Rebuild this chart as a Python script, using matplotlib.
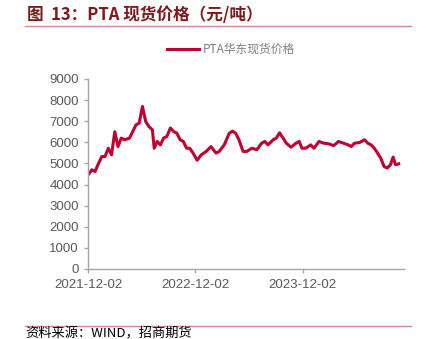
import pandas as pd
import matplotlib.pyplot as plt
from matplotlib.lines import Line2D

plt.rcParams['font.family'] = ['Liberation Sans', 'Noto Sans CJK SC', 'DejaVu Sans']

# PTA 华东现货价格（元/吨）
dates = [
    '2021-12-02', '2021-12-15', '2021-12-26', '2022-01-07', '2022-01-18', '2022-01-29',
    '2022-02-09', '2022-02-20', '2022-03-03', '2022-03-14', '2022-03-25', '2022-04-05',
    '2022-04-22', '2022-05-03', '2022-05-14', '2022-05-25', '2022-06-05', '2022-06-16',
    '2022-06-27', '2022-07-09', '2022-07-15', '2022-07-25', '2022-08-05', '2022-08-16',
    '2022-08-27', '2022-09-08', '2022-09-19', '2022-09-30', '2022-10-11', '2022-10-22',
    '2022-11-02', '2022-11-13', '2022-11-24', '2022-12-08', '2022-12-22', '2023-01-08',
    '2023-01-24', '2023-02-10', '2023-02-21', '2023-03-10', '2023-03-27', '2023-04-07',
    '2023-04-18', '2023-04-29', '2023-05-13', '2023-05-26', '2023-06-12', '2023-06-29',
    '2023-07-15', '2023-07-26', '2023-08-06', '2023-08-23', '2023-09-03', '2023-09-14',
    '2023-09-26', '2023-10-07', '2023-10-23', '2023-11-09', '2023-11-20', '2023-11-29',
    '2023-12-12', '2023-12-29', '2024-01-09', '2024-01-26', '2024-02-11', '2024-02-28',
    '2024-03-16', '2024-04-01', '2024-04-18', '2024-05-04', '2024-05-15', '2024-05-26',
    '2024-06-12', '2024-06-29', '2024-07-10', '2024-07-21', '2024-08-01', '2024-08-12',
    '2024-08-23', '2024-09-03', '2024-09-14', '2024-09-25', '2024-10-04', '2024-10-12',
    '2024-10-23',
]
price = [
    4450, 4700, 4620, 5010, 5330, 5330,
    5720, 5410, 6500, 5800, 6200, 6120,
    6200, 6510, 6830, 6910, 7700, 6990,
    6750, 6590, 5720, 6040, 5880, 6200,
    6280, 6680, 6510, 6430, 6120, 6040,
    5720, 5720, 5490, 5150, 5410, 5570,
    5800, 5490, 5570, 5880, 6430, 6530,
    6430, 6120, 5570, 5570, 5720, 5650,
    5960, 6040, 5880, 6120, 6200, 6450,
    6200, 5960, 5770, 5960, 6040, 5720,
    5720, 5880, 5720, 6040, 5960, 5930,
    5840, 6040, 5960, 5880, 5800, 5960,
    5990, 6120, 5960, 5880, 5720, 5490,
    5250, 4860, 4780, 4940, 5300, 4940,
    4980,
]
xtick_labels = ['2021-12-02', '2022-12-02', '2023-12-02']

red = '#C00030'
grey = '#595959'
accent = '#D9888A'

fig = plt.figure(figsize=(4.32, 3.39), dpi=100)
ax = fig.add_axes([0.2037, 0.2065, 0.7315, 0.5605])

x = pd.to_datetime(dates)
ax.plot(x, price, color=red, lw=2.2, solid_joinstyle='round')

ax.set_ylim(0, 9000)
ax.set_yticks(range(0, 9001, 1000))
ax.set_xlim(pd.Timestamp('2021-12-02'), pd.Timestamp('2024-11-10'))
ax.set_xticks(pd.to_datetime(xtick_labels))
ax.set_xticklabels(xtick_labels)

for s in ['top', 'right']:
    ax.spines[s].set_visible(False)
for s in ['left', 'bottom']:
    ax.spines[s].set_color('#A6A6A6')
    ax.spines[s].set_linewidth(1.0)
ax.tick_params(colors='#A6A6A6', labelcolor=grey, labelsize=9.5, length=3, width=1)
ax.tick_params(axis='x', pad=4)

# legend
handle = Line2D([], [], color=red, lw=2.2)
fig.legend([handle], ['PTA华东现货价格'], loc='center', bbox_to_anchor=(0.535, 0.855),
           frameon=False, handlelength=2.7, handletextpad=0.3,
           prop={'family': ['Noto Sans CJK SC'], 'size': 8.5}, labelcolor='#7F7F7F')

# title and footer
fig.text(0.062, 0.955, '图  13：PTA 现货价格（元/吨）', color='#7F1A1A', fontsize=12,
         fontweight='bold', family=['Noto Sans CJK SC'], va='center', ha='left')
fig.add_artist(Line2D([0.058, 0.951], [0.923, 0.923], color=accent, lw=1.0))
fig.add_artist(Line2D([0.058, 0.951], [0.038, 0.038], color=accent, lw=1.0))
fig.text(0.058, 0.016, '资料来源：WIND，招商期货', color='black', fontsize=9.5,
         family=['Noto Sans CJK SC'], va='center', ha='left')

fig.savefig('out.png', dpi=100)
